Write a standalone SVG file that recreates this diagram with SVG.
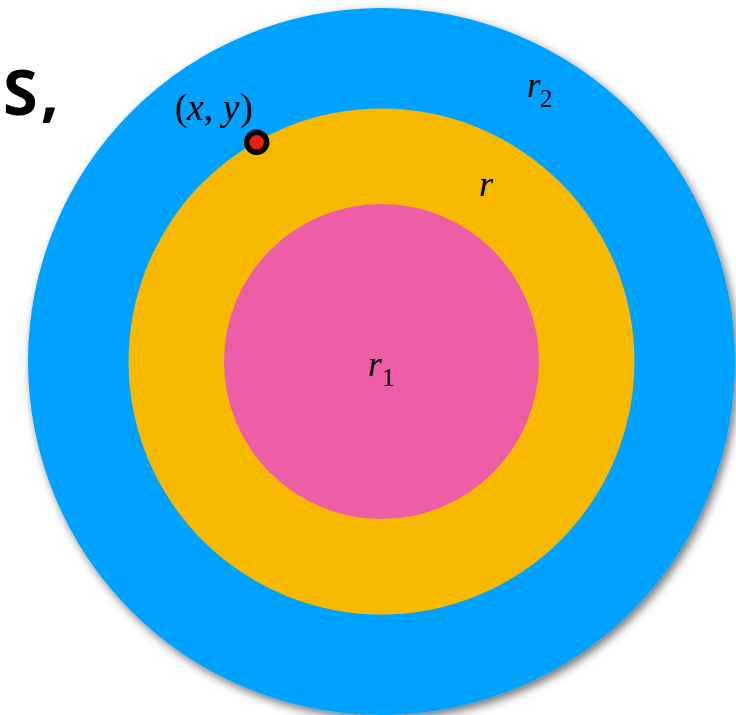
<svg xmlns="http://www.w3.org/2000/svg" width="736" height="715" viewBox="0 0 736 715">
<style>
.m{font-family:"Liberation Serif","Times New Roman",serif;fill:#000}
.i{font-style:italic}
</style>
<defs>
<filter id="sh" x="-10%" y="-10%" width="120%" height="120%">
<feDropShadow dx="3" dy="4" stdDeviation="5" flood-color="#000" flood-opacity="0.55"/>
</filter>
</defs>
<rect width="736" height="715" fill="#fff"/>
<text x="3" y="115" font-family="'Open Sans',sans-serif" font-weight="bold" font-size="63" letter-spacing="3" fill="#000">S,</text>
<g id="outer"><circle cx="381.5" cy="361.5" r="353.5" fill="#00A2FF" filter="url(#sh)"/></g>
<g id="middle"><circle cx="381.5" cy="361.5" r="253" fill="#F6B900"/></g>
<g id="inner"><circle cx="381.5" cy="361.5" r="157.5" fill="#EE5EA6"/></g>
<g id="point"><circle cx="256.7" cy="142.3" r="10" fill="#E8200F" stroke="#000" stroke-width="5.5"/></g>
<g id="labels">
<text class="m" x="175" y="120" font-size="37">(<tspan class="i">x</tspan>,<tspan dx="10" class="i">y</tspan><tspan dx="1">)</tspan></text>
<text class="m i" x="527" y="97" font-size="35">r</text><text class="m" x="540" y="107" font-size="25">2</text>
<text class="m i" x="479" y="196" font-size="36">r</text>
<text class="m i" x="368" y="376" font-size="35">r</text><text class="m" x="382" y="386" font-size="25">1</text>
</g>
</svg>
